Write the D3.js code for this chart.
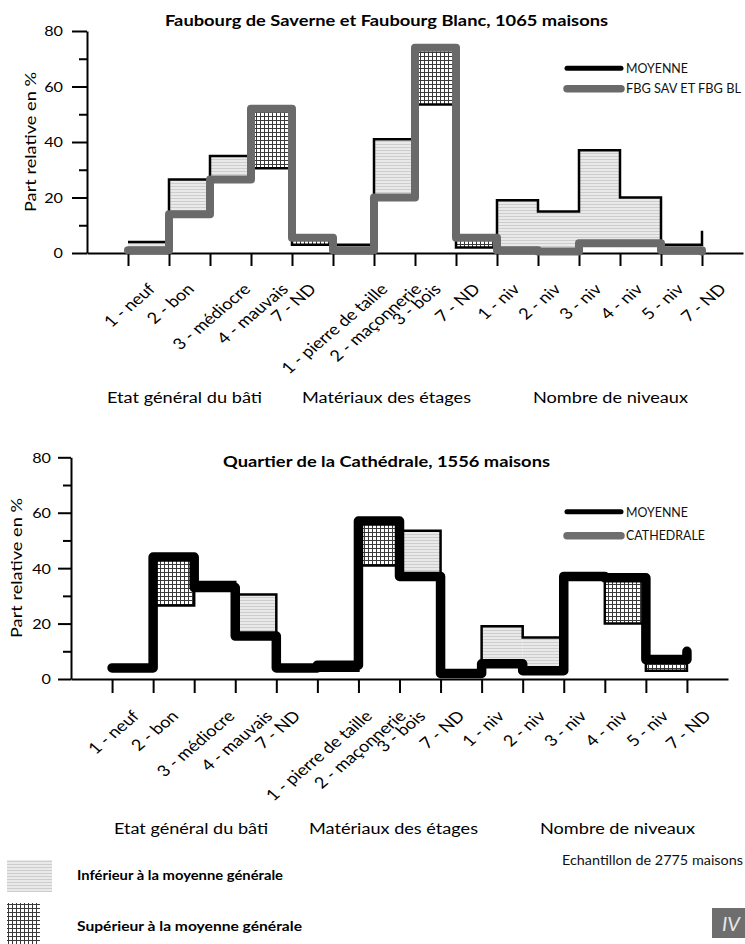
<!DOCTYPE html>
<html><head><meta charset="utf-8">
<script src="https://cdn.jsdelivr.net/npm/d3@7"></script>
<style>body{margin:0;background:#fff}svg{display:block}text{font-family:Lato,"Open Sans",sans-serif}</style>
</head><body>
<svg id="c" width="745" height="944"></svg>
<script>
// ---------- DATA ----------
const categories = ["1 - neuf","2 - bon","3 - médiocre","4 - mauvais","7 - ND",
  "1 - pierre de taille","2 - maçonnerie","3 - bois","7 - ND",
  "1 - niv","2 - niv","3 - niv","4 - niv","5 - niv","7 - ND"];
const groups = ["Etat général du bâti","Matériaux des étages","Nombre de niveaux"];
const moyenne    = [4, 26.5, 35, 30.5, 3, 3, 41, 53.5, 2, 19, 15, 37, 20, 3, 8];
const fbg        = [1, 14, 26.5, 52, 5.5, 1, 20, 74, 5.5, 1, 0.5, 3.5, 3.5, 1, 0.5];
const cathedrale = [4, 44, 33, 15.5, 4, 5, 57, 37, 2, 5.5, 3, 37, 36.5, 7, 10];
const yTicks = [0, 20, 40, 60, 80];
const yMinor = [10, 30, 50, 70];
const titles = ["Faubourg de Saverne et Faubourg Blanc, 1065 maisons", "Quartier de la Cathédrale, 1556 maisons"];
const seriesNames = ["FBG SAV ET FBG BL", "CATHEDRALE"];
const meanName = "MOYENNE";
const yTitle = "Part relative en %";

// ---------- LAYOUT ----------
const svg = d3.select("#c");
const defs = svg.append("defs");
const ph = defs.append("pattern").attr("id","hlines").attr("patternUnits","userSpaceOnUse").attr("width",6).attr("height",3);
ph.append("rect").attr("width",6).attr("height",3).attr("fill","#e9e9e9");
ph.append("rect").attr("width",6).attr("height",1).attr("fill","#cdcdcd");
const pg = defs.append("pattern").attr("id","grid").attr("patternUnits","userSpaceOnUse").attr("width",4).attr("height",4);
pg.append("rect").attr("width",4).attr("height",4).attr("fill","#fff");
pg.append("path").attr("d","M0.5,0V4M0,0.5H4").attr("stroke","#3a3a3a").attr("stroke-width",1);

function fit(sel, w){ sel.attr("textLength", w).attr("lengthAdjust","spacingAndGlyphs"); return sel; }
function stretch(sel, k){ sel.each(function(){ const L=this.getComputedTextLength(); this.setAttribute("textLength", L*k); this.setAttribute("lengthAdjust","spacingAndGlyphs"); }); }

const cfgs = [
  {series: fbg, name: seriesNames[0], title: titles[0], x0:87, x1:743, yT:31, yB:253, major:15, minor:8, pad:9, xTick:13,
   labelTop:281, titleY:26, titleW:443, ytx:31, yty:142, groupY:403, gc:[184.5,386.5,610.5], gw:[155,169,155],
   ly:[68.3,88.7], lty:[73.3,93.3], lw:[62,115], thickColor:"#6a6a6a", thickW:8, legColor:"#6a6a6a"},
  {series: cathedrale, name: seriesNames[1], title: titles[1], x0:71, x1:728, yT:457.3, yB:679, major:13, minor:8, pad:7, xTick:14,
   labelTop:708, titleY:466.5, titleW:327, ytx:17, yty:568, groupY:834, gc:[191,393.5,617.5], gw:[154,169,155],
   ly:[511.7,535.7], lty:[517,540], lw:[62,79], thickColor:"#000", thickW:9.5, legColor:"#6e6e6e"}
];

cfgs.forEach(cfg => {
  const idx = d3.range(categories.length);
  const x = d3.scalePoint().domain(idx).range([cfg.x0, cfg.x1]).padding(1);
  const y = d3.scaleLinear().domain([0,80]).range([cfg.yB, cfg.yT]);
  const g = svg.append("g");

  // fills between mean and series
  idx.slice(0, -1).forEach(i => {
    const a = moyenne[i], b = cfg.series[i];
    if (a === b) return;
    g.append("rect")
      .attr("x", x(i)).attr("width", x(i+1) - x(i))
      .attr("y", y(Math.max(a,b))).attr("height", y(Math.min(a,b)) - y(Math.max(a,b)))
      .attr("fill", b > a ? "url(#grid)" : "url(#hlines)");
  });

  // y axis
  const ya = g.append("g").attr("transform", `translate(${cfg.x0},0)`)
    .call(d3.axisLeft(y).tickValues(yTicks).tickSize(cfg.major).tickSizeOuter(0).tickPadding(cfg.pad));
  ya.select(".domain").attr("stroke-width", 2);
  ya.selectAll(".tick line").attr("stroke-width", 2);
  ya.selectAll(".tick text").attr("font-family","Lato").attr("font-size",13.5).attr("fill","#000").attr("dy","0.36em");
  stretch(ya.selectAll(".tick text"), 1.2);
  const ym = g.append("g").attr("transform", `translate(${cfg.x0},0)`)
    .call(d3.axisLeft(y).tickValues(yMinor).tickSize(cfg.minor).tickFormat(() => ""));
  ym.select(".domain").remove();
  ym.selectAll(".tick line").attr("stroke-width", 2);

  // x axis
  const xa = g.append("g").attr("transform", `translate(0,${cfg.yB})`)
    .call(d3.axisBottom(x).tickSize(cfg.xTick).tickSizeOuter(0).tickFormat(() => ""));
  xa.select(".domain").attr("stroke-width", 2);
  xa.selectAll(".tick line").attr("stroke-width", 2);

  // rotated category labels
  const fs = 15.5;
  categories.forEach((c, i) => {
    const t = g.append("text").text(c).attr("font-size", fs).attr("fill", "#000")
      .attr("text-anchor","middle").attr("dominant-baseline","central");
    const L = t.node().getComputedTextLength();
    const half = (L + fs*0.9) / (2*Math.SQRT2);
    t.attr("transform", `translate(${x(i)+1},${cfg.labelTop + half}) scale(1.18,1) rotate(-45)`);
  });

  // group labels
  groups.forEach((gname, k) => {
    const t = g.append("text").text(gname).attr("x", cfg.gc[k]).attr("y", cfg.groupY)
      .attr("text-anchor","middle").attr("font-size", 15.5).attr("fill","#000");
    fit(t, cfg.gw[k]);
  });

  // lines
  const line = d3.line().x((d,i) => x(i)).y(d => y(d)).curve(d3.curveStepAfter);
  g.append("path").datum(moyenne).attr("d", line).attr("fill","none").attr("stroke","#000").attr("stroke-width",2.5);
  g.append("path").datum(cfg.series).attr("d", line).attr("fill","none").attr("stroke",cfg.thickColor)
    .attr("stroke-width",cfg.thickW).attr("stroke-linejoin","round").attr("stroke-linecap","round");

  // title
  const tt = g.append("text").text(cfg.title).attr("x", 386.5).attr("y", cfg.titleY).attr("text-anchor","middle")
    .attr("font-weight", 700).attr("font-size", 15).attr("fill","#000");
  fit(tt, cfg.titleW);

  // y title
  const yt = g.append("text").text(yTitle).attr("transform", `translate(${cfg.ytx},${cfg.yty}) rotate(-90)`)
    .attr("text-anchor","middle").attr("dy","0.35em").attr("font-size", 15.5).attr("fill","#000");
  fit(yt, 140);

  // legend
  const lx0 = 567, lx1 = 621;
  g.append("line").attr("x1", lx0).attr("x2", lx1).attr("y1", cfg.ly[0]).attr("y2", cfg.ly[0])
    .attr("stroke","#000").attr("stroke-width",5).attr("stroke-linecap","round");
  g.append("line").attr("x1", lx0).attr("x2", lx1).attr("y1", cfg.ly[1]).attr("y2", cfg.ly[1])
    .attr("stroke",cfg.legColor).attr("stroke-width",7.5).attr("stroke-linecap","round");
  fit(g.append("text").text(meanName).attr("x", 626).attr("y", cfg.lty[0]).attr("font-size", 13).attr("fill","#111"), cfg.lw[0]);
  fit(g.append("text").text(cfg.name).attr("x", 626).attr("y", cfg.lty[1]).attr("font-size", 12.5).attr("fill","#111"), cfg.lw[1]);
});

// bottom legend
svg.append("rect").attr("x",7).attr("y",860).attr("width",45).attr("height",32).attr("fill","url(#hlines)");
svg.append("rect").attr("x",7).attr("y",903).attr("width",33).attr("height",41).attr("fill","url(#grid)");
fit(svg.append("text").text("Inférieur à la moyenne générale").attr("x",77).attr("y",880)
  .attr("font-weight",700).attr("font-size",13.5).attr("fill","#000"), 206);
fit(svg.append("text").text("Supérieur à la moyenne générale").attr("x",77).attr("y",931)
  .attr("font-weight",700).attr("font-size",13.5).attr("fill","#000"), 225);
fit(svg.append("text").text("Echantillon de 2775 maisons").attr("x",562).attr("y",865)
  .attr("font-size",13).attr("fill","#111"), 181);

// IV box
svg.append("rect").attr("x",712).attr("y",908).attr("width",40).attr("height",30).attr("fill","#6e6e6e");
svg.append("text").text("IV").attr("x",722).attr("y",931).attr("font-family","'Liberation Serif','DejaVu Serif',serif")
  .attr("font-style","italic").attr("font-size",20).attr("fill","#e8e8e8");
</script>
</body></html>
